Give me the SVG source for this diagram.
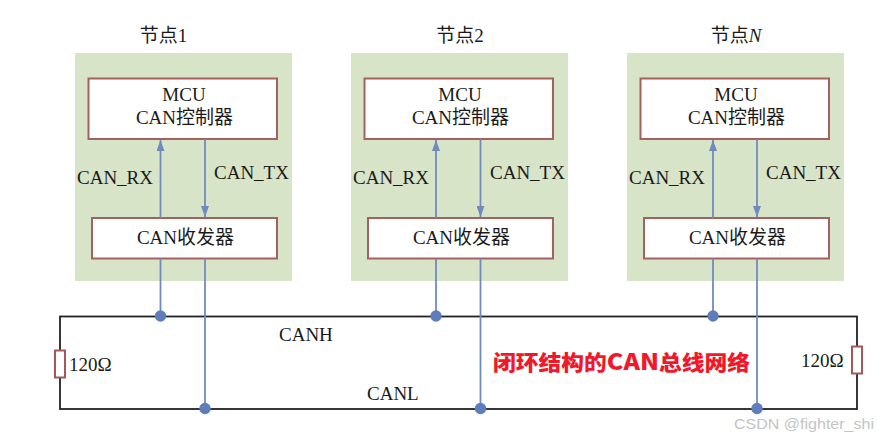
<svg xmlns="http://www.w3.org/2000/svg" width="877" height="439" viewBox="0 0 877 439">
<defs>
<marker id="arr" markerUnits="userSpaceOnUse" markerWidth="11" markerHeight="8" refX="11" refY="4" orient="auto" viewBox="0 0 11 8"><path d="M0 0L11 4L0 8Z" fill="#6f8bbd"/></marker>
<g id="node">
<rect class="panel" x="75" y="53" width="217" height="228"/>
<rect class="box" x="88.500" y="78.500" width="188.500" height="60.500"/>
<rect class="box" x="92" y="218" width="185" height="40.500"/>
<text class="t" x="184" y="101" text-anchor="middle">MCU</text>
<text class="t" x="184.500" y="124" text-anchor="middle">CAN控制器</text>
<text class="t" x="185.500" y="244" text-anchor="middle">CAN收发器</text>
<text class="t" x="77" y="184">CAN_RX</text>
<text class="t" x="214" y="179">CAN_TX</text>
</g>
</defs>
<style>
.panel{fill:#d8e4c8}
.box{fill:#fff;stroke:#a5615f;stroke-width:2}
.t{font-family:"Liberation Serif","Noto Sans CJK SC",serif;font-size:19px;fill:#1a1a1a}
.w{fill:none;stroke:#6f8bbd;stroke-width:1.800}
.bus{fill:none;stroke:#222;stroke-width:1.800}
.dot{fill:#5f7dbb}
.res{fill:#fff;stroke:#a5575b;stroke-width:2}
</style>
<rect width="877" height="439" fill="#fff"/>
<g id="node1"><use href="#node"/><text class="t" x="163.500" y="42" text-anchor="middle">节点1</text></g>
<g id="node2"><use href="#node" x="276"/><text class="t" x="460" y="42" text-anchor="middle">节点2</text></g>
<g id="nodeN"><use href="#node" x="552"/><text class="t" x="736" y="42" text-anchor="middle">节点<tspan font-style="italic">N</tspan></text></g>
<g id="connectors">
<rect class="bus" x="60" y="316.500" width="797" height="92.500"/>
<path class="w" d="M160.500 218V140" marker-end="url(#arr)"/>
<path class="w" d="M205 139V217" marker-end="url(#arr)"/>
<path class="w" d="M436 218V140" marker-end="url(#arr)"/>
<path class="w" d="M480.500 139V217" marker-end="url(#arr)"/>
<path class="w" d="M713 218V140" marker-end="url(#arr)"/>
<path class="w" d="M757 139V217" marker-end="url(#arr)"/>
<path class="w" d="M160.500 258.500V316M205 258.500V408M436 258.500V316M480.500 258.500V408M713 258.500V316M757 258.500V408"/>
<circle class="dot" cx="160.500" cy="316" r="5.700"/><circle class="dot" cx="205" cy="408.500" r="5.700"/>
<circle class="dot" cx="436" cy="316" r="5.700"/><circle class="dot" cx="480.500" cy="408.500" r="5.700"/>
<circle class="dot" cx="713" cy="316" r="5.700"/><circle class="dot" cx="757" cy="408.500" r="5.700"/>
</g>
<g id="resistorL"><rect class="res" x="55" y="350.500" width="10" height="27"/><text class="t" x="69" y="371">120Ω</text></g>
<g id="resistorR"><rect class="res" x="852" y="346.500" width="10" height="27"/><text class="t" x="801" y="367">120Ω</text></g>
<text class="t" x="279" y="341">CANH</text>
<text class="t" x="367" y="400">CANL</text>
<text x="493" y="370" font-family="'Noto Sans CJK SC','Liberation Sans',sans-serif" font-size="21" font-weight="900" fill="#f0182a" stroke="#fff" stroke-width="3" paint-order="stroke" textLength="257" lengthAdjust="spacingAndGlyphs">闭环结构的<tspan font-size="23">CAN</tspan>总线网络</text>
<text x="734" y="429" font-family="'Liberation Sans',sans-serif" font-size="15.500" fill="#c4c4c4" textLength="140" lengthAdjust="spacingAndGlyphs">CSDN @fighter_shi</text>
</svg>
